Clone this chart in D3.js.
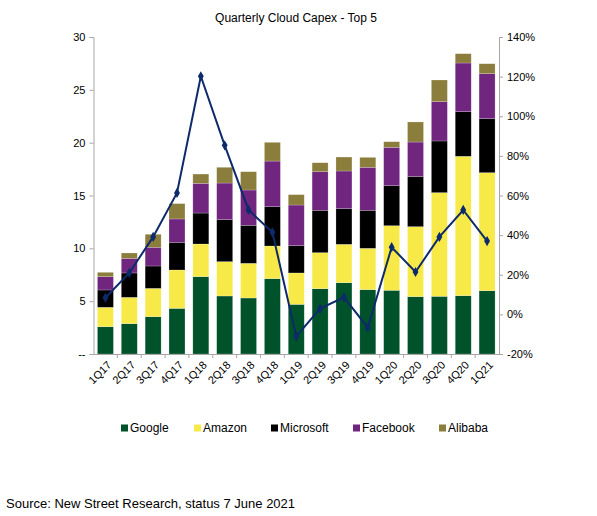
<!DOCTYPE html>
<html>
<head>
<meta charset="utf-8">
<script src="https://cdn.jsdelivr.net/npm/d3@7"></script>
<style>
  body { margin: 0; background: #fff; }
  svg { font-family: "Liberation Sans", Arial, sans-serif; }
</style>
</head>
<body>
<div id="chart"></div>
<script>
// Quarterly cloud capex - stacked bars + growth line

// Data
var quarters = ["1Q17","2Q17","3Q17","4Q17","1Q18","2Q18","3Q18","4Q18","1Q19","2Q19","3Q19","4Q19","1Q20","2Q20","3Q20","4Q20","1Q21"];
var google    = [2.58, 2.87, 3.53, 4.32, 7.32, 5.49, 5.30, 7.13, 4.70, 6.18, 6.75, 6.09, 6.03, 5.43, 5.46, 5.52, 5.99];
var amazon    = [1.84, 2.49, 2.68, 3.63, 3.09, 3.25, 3.28, 3.09, 2.97, 3.41, 3.63, 3.91, 6.11, 6.62, 9.81, 13.19, 11.17];
var microsoft = [1.64, 2.31, 2.12, 2.62, 2.93, 3.97, 3.60, 3.72, 2.58, 4.01, 3.37, 3.60, 3.79, 4.76, 4.89, 4.22, 5.11];
var facebook  = [1.26, 1.38, 1.77, 2.21, 2.81, 3.47, 3.34, 4.32, 3.85, 3.65, 3.57, 4.07, 3.63, 3.25, 3.72, 4.61, 4.26];
var alibaba   = [0.41, 0.51, 1.23, 1.45, 0.88, 1.49, 1.73, 1.77, 0.98, 0.85, 1.32, 0.94, 0.53, 1.90, 2.05, 0.88, 0.94];
var growth    = [8.4, 20.9, 39.1, 61.3, 120.2, 85.3, 52.7, 41.4, -11.1, 2.9, 8.6, -6.7, 33.9, 21.4, 39.1, 52.7, 37.0];

var seriesNames = ["Google", "Amazon", "Microsoft", "Facebook", "Alibaba"];
var leftTicks = [0, 5, 10, 15, 20, 25, 30];
var rightTicks = [-20, 0, 20, 40, 60, 80, 100, 120, 140];

// variables
var w = 597, h = 516;
var plotLeft = 93.5, plotRight = 499, plotTop = 37, plotBottom = 354;
var colors = ["#00522b", "#f7ea48", "#000000", "#70257f", "#8b7d3b"];
var axisColor = "#a6a6a6";
var lineColor = "#0d2a6b";

var rows = quarters.map(function(q, i) {
  return { q: q, Google: google[i], Amazon: amazon[i], Microsoft: microsoft[i], Facebook: facebook[i], Alibaba: alibaba[i] };
});
var stacked = d3.stack().keys(seriesNames)(rows);

var svg = d3.select("#chart").append("svg")
  .attr("width", w)
  .attr("height", h);

// scales
var x = d3.scaleBand().domain(quarters).range([plotLeft, plotRight]).paddingInner(0.33).paddingOuter(0.165);
var xb = d3.scaleBand().domain(quarters).range([plotLeft, plotRight]);
var y = d3.scaleLinear().domain([0, 30]).range([plotBottom, plotTop]);
var y2 = d3.scaleLinear().domain([-20, 140]).range([plotBottom, plotTop]);

// title
svg.append("text")
  .attr("x", 296).attr("y", 22)
  .attr("text-anchor", "middle")
  .style("font-size", "12px")
  .text("Quarterly Cloud Capex - Top 5");

// bars
svg.append("g").selectAll("g")
  .data(stacked)
  .enter().append("g")
  .attr("fill", function(d, i) { return colors[i]; })
  .selectAll("rect")
  .data(function(d) { return d; })
  .enter().append("rect")
  .attr("x", function(d) { return x(d.data.q); })
  .attr("width", x.bandwidth())
  .attr("y", function(d) { return y(d[1]); })
  .attr("height", function(d) { return y(d[0]) - y(d[1]); })
  .attr("stroke", "#ffffff")
  .attr("stroke-opacity", 0.35)
  .attr("stroke-width", 0.6);

// left axis
var leftAxis = svg.append("g")
  .attr("transform", "translate(" + plotLeft + ",0)")
  .call(d3.axisLeft(y).tickValues(leftTicks).tickSize(4).tickPadding(4)
    .tickFormat(function(d) { return d === 0 ? "--" : d; }));

// right axis
var rightAxis = svg.append("g")
  .attr("transform", "translate(" + plotRight + ",0)")
  .call(d3.axisRight(y2).tickValues(rightTicks).tickSize(4).tickPadding(4)
    .tickFormat(function(d) { return d + "%"; }));

// x axis
var xAxis = svg.append("g")
  .attr("transform", "translate(0," + plotBottom + ")")
  .call(d3.axisBottom(xb).tickSize(0).tickFormat(""));

xAxis.selectAll(".tick").remove();
svg.append("g").selectAll("line")
  .data(quarters.slice(1))
  .enter().append("line")
  .attr("x1", function(d) { return xb(d); })
  .attr("x2", function(d) { return xb(d); })
  .attr("y1", plotBottom).attr("y2", plotBottom + 4)
  .attr("stroke", axisColor);

svg.append("g").selectAll("text")
  .data(quarters)
  .enter().append("text")
  .attr("transform", function(d) {
    return "translate(" + (xb(d) + xb.bandwidth() / 2 + 4) + "," + (plotBottom + 9) + ") rotate(-45)";
  })
  .attr("text-anchor", "end")
  .attr("dy", "0.35em")
  .style("font-size", "11px")
  .text(function(d) { return d; });

[leftAxis, rightAxis, xAxis].forEach(function(a) {
  a.select(".domain").attr("stroke", axisColor);
  a.selectAll(".tick line").attr("stroke", axisColor);
  a.selectAll(".tick text").style("font-size", "11px").attr("fill", "#000");
});

// growth line
var line = d3.line()
  .x(function(d, i) { return xb(quarters[i]) + xb.bandwidth() / 2; })
  .y(function(d) { return y2(d); });

svg.append("path")
  .datum(growth)
  .attr("d", line)
  .attr("fill", "none")
  .attr("stroke", lineColor)
  .attr("stroke-width", 2);

svg.append("g").selectAll("path")
  .data(growth)
  .enter().append("path")
  .attr("d", d3.symbol().type(d3.symbolDiamond).size(30))
  .attr("transform", function(d, i) {
    return "translate(" + (xb(quarters[i]) + xb.bandwidth() / 2) + "," + y2(d) + ")";
  })
  .attr("fill", lineColor);

// legend
var legendX = [121, 194, 271, 353, 439];
var legend = svg.append("g").selectAll("g")
  .data(seriesNames)
  .enter().append("g")
  .attr("transform", function(d, i) { return "translate(" + legendX[i] + ",428)"; });

legend.append("rect")
  .attr("x", 0).attr("y", -3.5)
  .attr("width", 7).attr("height", 7)
  .attr("fill", function(d, i) { return colors[i]; });

legend.append("text")
  .attr("x", 9).attr("dy", "0.35em")
  .style("font-size", "12px")
  .text(function(d) { return d; });

// source
svg.append("text")
  .attr("x", 6).attr("y", 508)
  .style("font-size", "13px")
  .text("Source: New Street Research, status 7 June 2021");

// end of chart
</script>
</body>
</html>
